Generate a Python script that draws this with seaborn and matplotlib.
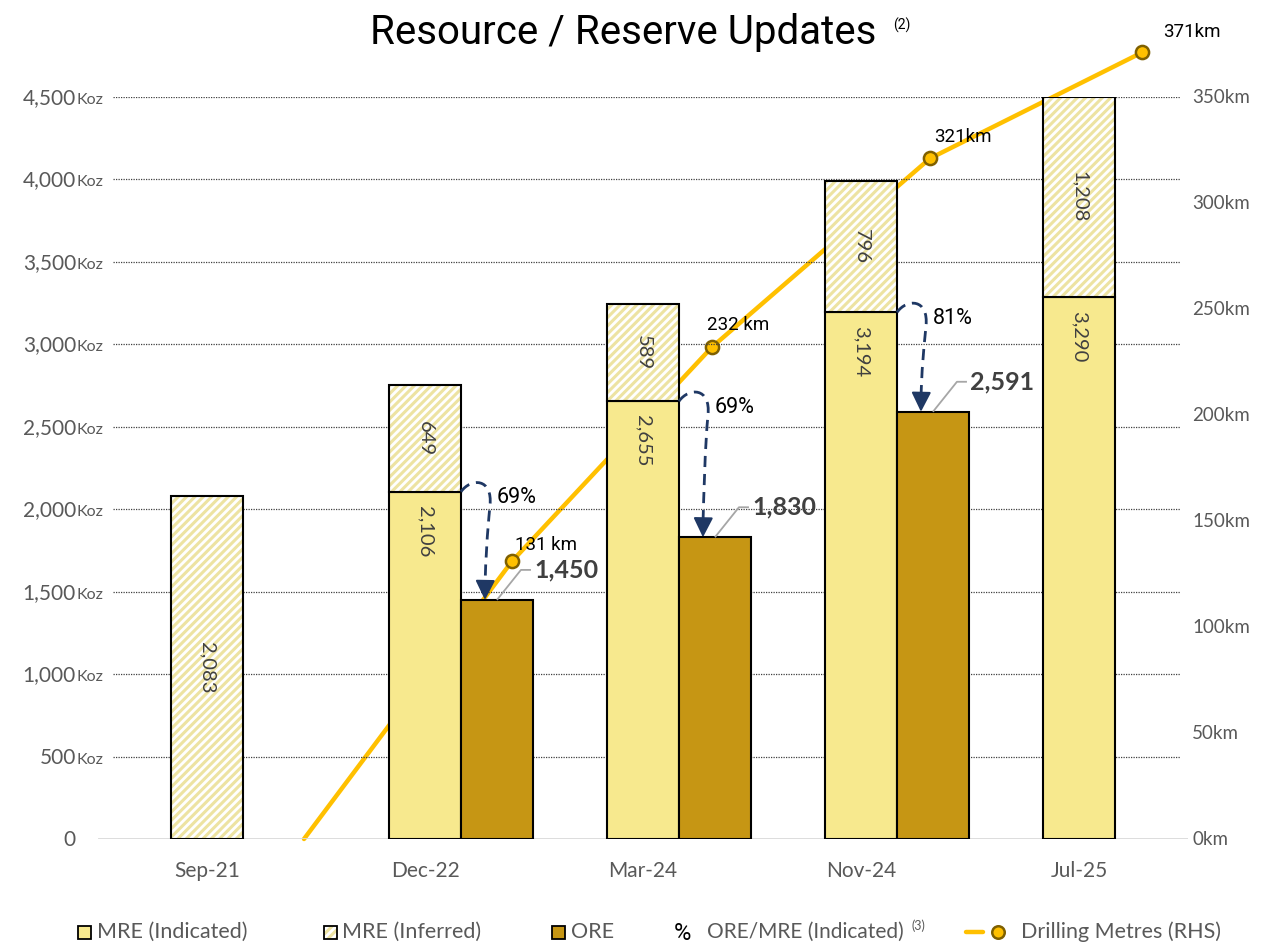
import numpy as np
import matplotlib
matplotlib.use("Agg")
import matplotlib.pyplot as plt
import seaborn as sns
import matplotlib.transforms as mtransforms
from matplotlib.patches import Rectangle, PathPatch
from matplotlib.path import Path
from matplotlib.lines import Line2D

# ---------------- data ----------------
categories = ["Sep-21", "Dec-22", "Mar-24", "Nov-24", "Jul-25"]
mre_indicated = [0, 2106, 2655, 3194, 3290]
mre_inferred = [2083, 649, 589, 796, 1208]
ore = [0, 1450, 1830, 2591, 0]
drill_pos = [0.28, 1.234, 2.151, 3.151, 4.124]   # position on category scale (dates)
drill_km = [0, 131, 232, 321, 371]
drill_labels = ["", "131 km", "232 km", "321km", "371km"]
left_ticks = [0, 500, 1000, 1500, 2000, 2500, 3000, 3500, 4000, 4500]
right_ticks = [0, 50, 100, 150, 200, 250, 300, 350]

# ---------------- style ----------------
sns.set_theme(style="white")
plt.rcParams['font.family'] = ['Lato', 'DejaVu Sans']
plt.rcParams['hatch.linewidth'] = 2.2

IND = '#F7E98E'
HATCH = '#EDE3A2'
ORE_C = '#C69614'
LINE = '#FFC000'
MK_EDGE = '#7F6000'
NAVY = '#1F3864'
GRAY = '#595959'
DARK = '#404040'
ROBOTO = ['Roboto', 'DejaVu Sans']

W, H = 1274, 946
fig = plt.figure(figsize=(W / 100, H / 100), dpi=100)
L, R, B, T = 98, 1188, 839, 97
ax = fig.add_axes([L / W, 1 - B / H, (R - L) / W, (B - T) / H])
ax2 = ax.twinx()
ax.set_zorder(ax2.get_zorder() + 1)
ax.patch.set_visible(False)

x = np.arange(len(categories))
bw = 0.33
x_mre = x - bw / 2
x_ore = x + bw / 2
ind = np.array(mre_indicated, dtype=float)
inf = np.array(mre_inferred, dtype=float)
orev = np.array(ore, dtype=float)

ax.set_xlim(-0.665, 4.335)
ax.set_ylim(0, 4500)
ax2.set_ylim(0, 350)

# gridlines
for v in left_ticks[1:]:
    ax.axhline(v, xmin=(113 - L) / (R - L), xmax=(1180 - L) / (R - L),
               color='#404040', lw=0.9, ls=(0, (1, 1)), zorder=1)
ax.axhline(0, color='#D9D9D9', lw=2, zorder=2)

# bars
m = ind > 0
ax.bar(x_mre[m], ind[m], bw, color=IND, edgecolor='black', linewidth=1.5, zorder=3)
ax.bar(x_mre, inf, bw, bottom=ind, facecolor='white', edgecolor=HATCH,
       hatch='////', linewidth=0, zorder=3)
ax.bar(x_mre, inf, bw, bottom=ind, fill=False, edgecolor='black', linewidth=1.5, zorder=3.2)
mo = orev > 0
ax.bar(x_ore[mo], orev[mo], bw, color=ORE_C, edgecolor='black', linewidth=1.5, zorder=3)

# drilling line (behind bars)
sns.lineplot(x=drill_pos, y=drill_km, ax=ax2, color=LINE, linewidth=3.2, sort=False)
for ln in ax2.lines:
    ln.set_clip_on(False)
sns.scatterplot(x=drill_pos[1:], y=drill_km[1:], ax=ax2, s=90, color=LINE,
                edgecolor=MK_EDGE, linewidth=1.8, zorder=5, clip_on=False)
ax2.set_xlim(-0.665, 4.335)
ax2.set_ylim(0, 350)

drill_off = {1: (3, 16), 2: (-5, 22), 3: (4, 21), 4: (21, 20)}
for i in range(1, len(drill_km)):
    ax2.annotate(drill_labels[i], (drill_pos[i], drill_km[i]), xytext=drill_off[i],
                 textcoords='offset pixels', ha='left', va='center', fontsize=13.5,
                 family=ROBOTO, color='black', annotation_clip=False)

# axes cosmetics
for a in (ax, ax2):
    for s in a.spines.values():
        s.set_visible(False)
    a.grid(False)
ax.set_yticks(left_ticks)
ax.set_yticklabels([])
ax.tick_params(axis='y', length=0)
ax.set_xticks(x_mre)
ax.set_xticklabels(categories)
ax.tick_params(axis='x', length=0, pad=16, labelsize=15, labelcolor=GRAY)
ax2.set_yticks(right_ticks)
ax2.set_yticklabels([f"{v}km" for v in right_ticks])
ax2.tick_params(axis='y', right=True, left=False, labelright=True, labelleft=False,
                length=0, pad=3, labelsize=13.5, labelcolor=GRAY)
ax2.tick_params(axis='x', bottom=False, top=False, labelbottom=False, labeltop=False)
for lab in ax2.get_yticklabels():
    lab.set_verticalalignment('center')

# left tick labels with small "Koz"
tr = mtransforms.blended_transform_factory(fig.transFigure, ax.transData) + \
    mtransforms.ScaledTranslation(0, -7 / 100, fig.dpi_scale_trans)
for v in left_ticks:
    fig.text(76 / W, v, f"{v:,}", transform=tr, ha='right', va='baseline',
             fontsize=15, color=GRAY)
    if v > 0:
        fig.text(77 / W, v, "Koz", transform=tr, ha='left', va='baseline',
                 fontsize=11.5, color=GRAY)

# bar value labels
for i in range(len(categories)):
    if ind[i] > 0:
        ax.annotate(f"{int(ind[i]):,}", (x_mre[i], ind[i]), xytext=(0, -14),
                    textcoords='offset pixels', rotation=-90, ha='center', va='top',
                    fontsize=14.5, color=DARK, zorder=6)
    ax.text(x_mre[i], ind[i] + inf[i] / 2, f"{int(inf[i]):,}", rotation=-90,
            ha='center', va='center', fontsize=14.5, color=DARK, zorder=6)


def off(xd, yd, dxp, dyp):
    d = ax.transData.transform((xd, yd))
    return ax.transData.inverted().transform((d[0] + dxp, d[1] + dyp))


# ORE labels with leader lines + ratio arrows
for i in range(len(categories)):
    if orev[i] <= 0:
        continue
    p0 = (x_ore[i], orev[i])
    p1 = off(x_ore[i], orev[i], 24, 30)
    p2 = off(x_ore[i], orev[i], 34, 30)
    ax.plot([p0[0], p1[0], p2[0]], [p0[1], p1[1], p2[1]], color='#A6A6A6', lw=1.3,
            zorder=6, solid_capstyle='butt')
    ax.annotate(f"{int(orev[i]):,}", p0, xytext=(37, 30), textcoords='offset pixels',
                ha='left', va='center', fontsize=18, fontweight='bold', color=DARK, zorder=6)

    # curved dashed arrow from indicated top-right corner to ORE top
    sx, sy = x[i], ind[i]
    sdisp = ax.transData.transform((sx, sy))
    edisp = ax.transData.transform((x_ore[i], orev[i]))
    ex = edisp[0] - sdisp[0] - 12
    ey = edisp[1] - sdisp[1]          # negative (down)
    pts_px = [(0, 0), (10, 14), (32, 14), (29, -14),
              (26, -45), (ex + 1, ey + 45), (ex, ey + 12)]
    verts = [ax.transData.inverted().transform((sdisp[0] + a, sdisp[1] + b)) for a, b in pts_px]
    codes = [Path.MOVETO, Path.CURVE4, Path.CURVE4, Path.CURVE4,
             Path.CURVE4, Path.CURVE4, Path.CURVE4]
    ax.add_patch(PathPatch(Path(verts, codes), fill=False, edgecolor=NAVY, lw=2,
                           linestyle=(0, (4, 2.5)), zorder=7, capstyle='butt'))
    tip = ax.transData.inverted().transform((sdisp[0] + ex, sdisp[1] + ey))
    tail = ax.transData.inverted().transform((sdisp[0] + ex + 0.3, sdisp[1] + ey + 16))
    ax.annotate('', xy=tip, xytext=tail,
                arrowprops=dict(arrowstyle='-|>,head_length=0.8,head_width=0.4',
                                color=NAVY, lw=1.5, mutation_scale=15, shrinkA=0, shrinkB=0),
                zorder=7)
    pct = f"{round(orev[i] / ind[i] * 100)}%"
    ax.annotate(pct, (sx, sy), xytext=(36, -6), textcoords='offset pixels', ha='left',
                va='center', fontsize=15.5, family=ROBOTO, color='black', zorder=7)


def fx(px):
    return px / W


def fy(py):
    return 1 - py / H


# title
fig.text(fx(623), fy(33), "Resource / Reserve Updates", ha='center', va='center',
         fontsize=29, family=ROBOTO, color='black')
fig.text(fx(893), fy(25), "(2)", ha='left', va='center', fontsize=10,
         family=ROBOTO, color='black')

# legend (manual)
ly = 932
sq = 13
LFS = 15.5
fig.add_artist(Rectangle((fx(78), fy(ly + sq / 2)), sq / W, sq / H, transform=fig.transFigure,
                         facecolor=IND, edgecolor='black', lw=1.3))
fig.text(fx(97), fy(ly), "MRE (Indicated)", ha='left', va='center', fontsize=LFS, color=GRAY)
fig.add_artist(Rectangle((fx(324), fy(ly + sq / 2)), sq / W, sq / H, transform=fig.transFigure,
                         facecolor='white', edgecolor=HATCH, hatch='////', lw=0))
fig.add_artist(Rectangle((fx(324), fy(ly + sq / 2)), sq / W, sq / H, transform=fig.transFigure,
                         fill=False, edgecolor='black', lw=1.3))
fig.text(fx(342), fy(ly), "MRE (Inferred)", ha='left', va='center', fontsize=LFS, color=GRAY)
fig.add_artist(Rectangle((fx(552), fy(ly + sq / 2)), sq / W, sq / H, transform=fig.transFigure,
                         facecolor=ORE_C, edgecolor='black', lw=1.3))
fig.text(fx(571), fy(ly), "ORE", ha='left', va='center', fontsize=LFS, color=GRAY)
fig.text(fx(674), fy(ly + 1), "%", ha='left', va='center', fontsize=17, color='black',
         family=ROBOTO)
fig.text(fx(707), fy(ly), "ORE/MRE (Indicated)", ha='left', va='center', fontsize=LFS - 0.5,
         color=GRAY)
fig.text(fx(911), fy(ly - 6), "(3)", ha='left', va='center', fontsize=9, color=GRAY)
fig.add_artist(Line2D([fx(966), fx(983)], [fy(ly), fy(ly)], transform=fig.transFigure,
                      color=LINE, lw=3.2))
fig.add_artist(Line2D([fx(998)], [fy(ly)], transform=fig.transFigure, marker='o',
                      markersize=9, markerfacecolor=LINE, markeredgecolor=MK_EDGE,
                      markeredgewidth=1.8, linestyle='none'))
fig.text(fx(1021), fy(ly), "Drilling Metres (RHS)", ha='left', va='center', fontsize=LFS,
         color=GRAY)

fig.savefig("out.png", dpi=100)
